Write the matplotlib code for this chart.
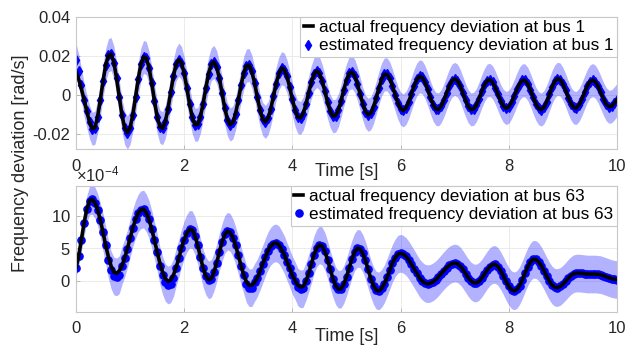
import numpy as np
import matplotlib
matplotlib.use("Agg")
import matplotlib.pyplot as plt
from matplotlib.ticker import ScalarFormatter

plt.rcParams["font.family"] = ["Liberation Sans", "DejaVu Sans"]
plt.rcParams["mathtext.fontset"] = "custom"
plt.rcParams["mathtext.rm"] = "Liberation Sans"
plt.rcParams["mathtext.default"] = "regular"
plt.rcParams["axes.unicode_minus"] = False

dt = 0.05  # sample spacing [s]

# bus 1, actual frequency deviation (units of 1e-3 rad/s)
bus1_actual = [
    11.9, 8.0, 3.0, -2.5, -8.5, -14.0, -17.5, -16.9, -11.2, -2.5,
    7.1, 15.4, 20.4, 20.9, 16.6, 8.6, -1.2, -10.5, -17.1, -19.4,
    -16.9, -10.4, -1.3, 8.1, 15.7, 19.5, 18.8, 13.9, 6.0, -3.1,
    -11.2, -16.3, -17.2, -13.9, -7.2, 1.3, 9.5, 15.6, 18.1, 16.4,
    11.0, 3.4, -4.9, -11.6, -15.4, -15.2, -11.2, -4.5, 3.5, 10.8,
    15.7, 16.9, 14.3, 8.5, 0.8, -6.8, -12.7, -15.3, -14.2, -9.6,
    -2.8, 4.8, 11.2, 15.0, 15.3, 12.0, 6.2, -1.0, -7.7, -12.4,
    -13.9, -12.0, -7.3, -0.8, 5.8, 11.0, 13.7, 13.0, 9.5, 3.9,
    -2.4, -7.9, -11.4, -11.9, -9.6, -4.9, 1.0, 6.6, 10.7, 12.3,
    11.0, 7.2, 1.9, -3.8, -8.5, -11.0, -10.7, -7.9, -3.0, 2.6,
    7.6, 11.0, 11.7, 9.9, 5.8, 0.6, -4.6, -8.6, -10.3, -9.4,
    -6.2, -1.5, 3.6, 8.0, 10.5, 10.5, 8.4, 4.6, 0.0, -4.2,
    -7.1, -8.0, -6.7, -3.7, 0.5, 4.7, 7.9, 9.5, 9.0, 6.6,
    2.9, -1.3, -5.0, -7.2, -7.5, -5.9, -2.8, 1.0, 4.7, 7.3,
    8.2, 7.3, 4.7, 1.0, -2.8, -5.9, -7.5, -7.2, -5.3, -2.0,
    1.8, 5.1, 7.3, 7.7, 6.4, 3.7, 0.2, -3.2, -5.7, -6.8,
    -6.1, -3.9, -0.7, 2.8, 5.8, 7.4, 7.4, 5.6, 2.5, -1.2,
    -4.6, -6.9, -7.6, -6.4, -3.5, 0.2, 4.0, 6.9, 8.3, 7.8,
    5.6, 2.3, -1.4, -4.6, -6.5, -6.7, -5.1, -2.3, 1.2, 4.5,
    6.8, 7.6, 6.7, 4.4, 1.2, -2.1, -4.8, -6.1, -5.9, -4.4,
    -2.6,
]
# estimate sits on the actual curve except at the start
bus1_est_fix = {0: 18.0, 1: 12.5, 2: 5.0}
bus1_band = 8.5  # half width of shaded band, 1e-3 rad/s

# bus 63, actual frequency deviation (units of 1e-4 rad/s)
bus63_actual = [
    1.95, 3.8, 6.3, 8.9, 11.0, 12.3, 12.5, 12.0, 10.9, 9.3,
    7.4, 5.4, 3.6, 2.2, 1.3, 1.1, 1.5, 2.3, 3.5, 4.9,
    6.5, 8.1, 9.4, 10.4, 10.9, 11.0, 10.4, 9.4, 7.9, 6.2,
    4.4, 2.7, 1.3, 0.3, -0.1, 0.1, 0.8, 2.0, 3.4, 5.0,
    6.3, 7.3, 7.9, 7.8, 6.9, 5.4, 3.6, 1.9, 0.7, 0.1,
    0.3, 1.3, 2.7, 4.4, 5.9, 7.1, 7.6, 7.4, 6.6, 5.4,
    3.9, 2.3, 0.9, -0.2, -0.75, -0.7, -0.3, 0.4, 1.4, 2.5,
    3.6, 4.6, 5.3, 5.7, 5.8, 5.5, 4.8, 4.0, 2.9, 1.9,
    0.8, 0.0, -0.7, -1.0, -0.9, -0.15, 1.1, 2.5, 4.0, 5.0,
    5.5, 5.3, 4.5, 3.2, 1.7, 0.3, -0.8, -1.35, -1.3, -0.6,
    0.55, 1.9, 3.3, 4.4, 4.95, 4.9, 4.2, 3.1, 1.7, 0.3,
    -0.8, -1.5, -1.6, -1.2, -0.5, 0.5, 1.6, 2.7, 3.5, 4.06,
    4.2, 4.04, 3.7, 3.15, 2.5, 1.8, 1.1, 0.4, -0.07, -0.4,
    -0.5, -0.42, -0.2, 0.13, 0.57, 1.05, 1.54, 1.98, 2.35, 2.59,
    2.7, 2.6, 2.27, 1.73, 1.08, 0.45, -0.06, -0.35, -0.38, -0.12,
    0.36, 0.99, 1.62, 2.14, 2.45, 2.47, 2.15, 1.52, 0.71, -0.15,
    -0.9, -1.42, -1.6, -1.38, -0.77, 0.13, 1.16, 2.13, 2.88, 3.27,
    3.24, 2.9, 2.3, 1.52, 0.68, -0.09, -0.7, -1.04, -1.08, -0.91,
    -0.56, -0.12, 0.35, 0.77, 1.05, 1.15, 1.15, 1.1, 1.05, 1.0,
    1.0, 1.0, 1.0, 0.95, 0.9, 0.75, 0.6, 0.45, 0.3, 0.2,
    0.15,
]
# estimate dips a little below the actual curve in the early troughs
bus63_est_fix = {12: 3.2, 13: 1.6, 14: 0.7, 15: 0.55, 16: 0.9,
                 31: 2.3, 32: 0.8, 33: -0.3, 34: -0.7, 35: -0.5, 36: 0.4,
                 63: -0.5, 64: -1.1, 65: -1.1, 82: -1.0, 83: -1.3, 84: -1.2}
bus63_band = [1.4, 1.6, 1.8, 2.0, 2.1, 2.2, 2.3, 2.4, 2.5, 2.6] + [2.9] * 191

xticks = [0, 2, 4, 6, 8, 10]
top_yticks = [-0.02, 0, 0.02, 0.04]
top_yticklabels = ["-0.02", "0", "0.02", "0.04"]
bot_yticks = [0, 5e-4, 10e-4]

t = np.arange(len(bus1_actual)) * dt

y1 = np.array(bus1_actual) * 1e-3
e1 = y1.copy()
for i, v in bus1_est_fix.items():
    e1[i] = v * 1e-3
s1 = bus1_band * 1e-3

y2 = np.array(bus63_actual) * 1e-4
e2 = y2.copy()
for i, v in bus63_est_fix.items():
    e2[i] = v * 1e-4
s2 = np.array(bus63_band) * 1e-4

W, H = 627, 345
fig = plt.figure(figsize=(W / 100, H / 100), dpi=100)
ax1 = fig.add_axes([76 / W, 1 - 149.3 / H, 541 / W, 132.3 / H])
ax2 = fig.add_axes([76 / W, 1 - 311.7 / H, 541 / W, 126 / H])

gray = "#c8c8c8"
text_c = "#262626"
band_c = (0.0, 0.0, 1.0, 0.3)


def style(ax):
    ax.set_xlim(0, 10)
    ax.set_xticks(xticks)
    ax.grid(True, color="#e8e8e8", lw=0.6)
    ax.set_axisbelow(True)
    for sp in ax.spines.values():
        sp.set_color(gray)
        sp.set_linewidth(0.8)
    ax.tick_params(direction="in", length=3, width=0.6, color="#b0b0b0",
                   labelcolor=text_c, labelsize=12)
    ax.tick_params(axis="x", pad=7)
    ax.tick_params(axis="y", pad=4)


def add_legend(ax, handles, labels):
    leg = ax.legend(handles, labels, loc="upper right", borderaxespad=0,
                    fancybox=False, edgecolor=gray, framealpha=1,
                    fontsize=12.3, handlelength=0.55, handletextpad=0.35,
                    borderpad=0.2, labelspacing=0.18)
    leg.get_frame().set_linewidth(0.8)
    return leg


# top: bus 1
ax1.fill_between(t, e1 - s1, e1 + s1, color=band_c, lw=0)
m1, = ax1.plot(t, e1, "d", color="blue", ms=4.8, mec="blue")
l1, = ax1.plot(t, y1, color="black", lw=2.6)
ax1.set_ylim(-0.028, 0.04)
ax1.set_yticks(top_yticks)
ax1.set_yticklabels(top_yticklabels)
style(ax1)
ax1.set_xlabel("Time [s]", fontsize=13, color=text_c)
ax1.xaxis.set_label_coords(0.5, -0.105)
add_legend(ax1, [l1, m1], ["actual frequency deviation at bus 1",
                           "estimated frequency deviation at bus 1"])

# bottom: bus 63
ax2.fill_between(t, e2 - s2, e2 + s2, color=band_c, lw=0)
m2, = ax2.plot(t, e2, "o", color="blue", ms=5.2, mec="blue")
l2, = ax2.plot(t, y2, color="black", lw=2.6)
ax2.set_ylim(-4.8e-4, 14.6e-4)
ax2.set_yticks(bot_yticks)
fmt = ScalarFormatter(useMathText=True)
fmt.set_powerlimits((-4, -4))
ax2.yaxis.set_major_formatter(fmt)
ax2.yaxis.get_offset_text().set_fontsize(12)
ax2.yaxis.get_offset_text().set_color(text_c)
style(ax2)
ax2.set_xlabel("Time [s]", fontsize=13, color=text_c)
ax2.xaxis.set_label_coords(0.5, -0.129)
add_legend(ax2, [l2, m2], ["actual frequency deviation at bus 63",
                           "estimated frequency deviation at bus 63"])

fig.text(0.032, 0.527, "Frequency deviation [rad/s]", rotation=90,
         ha="center", va="center", fontsize=13, color=text_c)

fig.savefig("out.png", dpi=100)
